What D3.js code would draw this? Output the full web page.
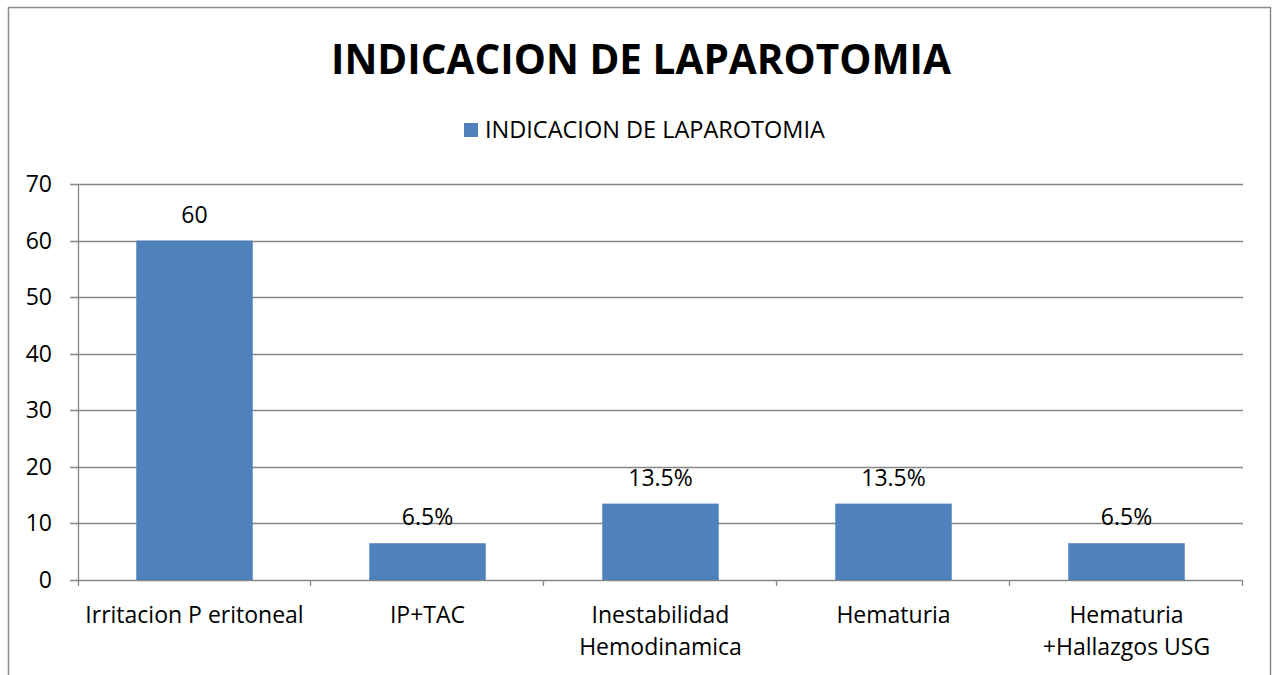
<!DOCTYPE html>
<meta charset="utf-8">
<style>
body { margin: 0; background: #fff; }
text { font-family: "Open Sans", "Noto Sans", sans-serif; fill: #000; }
.title { font-weight: bold; font-size: 40.5px; }
.axis text { font-size: 23px; }
.grid line { stroke: #868686; stroke-width: 1.3; }
.bar { fill: #4f81bd; }
.label { font-size: 23px; }
</style>
<svg width="1272" height="675"></svg>
<script src="https://d3js.org/d3.v7.min.js"></script>
<script>

var categories = [["Irritacion P eritoneal"], ["IP+TAC"], ["Inestabilidad", "Hemodinamica"], ["Hematuria"], ["Hematuria", "+Hallazgos USG"]],
    values = [60, 6.5, 13.5, 13.5, 6.5],
    valueLabels = ["60", "6.5%", "13.5%", "13.5%", "6.5%"],
    yTicks = [0, 10, 20, 30, 40, 50, 60, 70],
    seriesName = "INDICACION DE LAPAROTOMIA",
    title = "INDICACION DE LAPAROTOMIA";

var svg = d3.select("svg"),
    margin = {top: 184, right: 29, bottom: 95, left: 78},
    width = +svg.attr("width") - margin.left - margin.right,
    height = +svg.attr("height") - margin.top - margin.bottom;

// outer frame
svg.append("rect")
    .attr("x", 8.5).attr("y", 7.5)
    .attr("width", 1262).attr("height", 700)
    .attr("fill", "none")
    .attr("stroke", "#8c8c8c")
    .attr("stroke-width", 1.5);

svg.append("text")
    .attr("class", "title")
    .attr("x", 641).attr("y", 74)
    .attr("text-anchor", "middle")
    .text(title);

// legend
var legend = svg.append("g").attr("transform", "translate(464,123)");
legend.append("rect").attr("class", "bar").attr("width", 14).attr("height", 14);
legend.append("text").attr("x", 21).attr("y", 15).attr("font-size", 23.5).text(seriesName);

var x = d3.scaleBand().domain(d3.range(categories.length)).range([0, width]).paddingInner(0).paddingOuter(0),
    y = d3.scaleLinear().domain([0, 70]).range([height, 0]);

var g = svg.append("g")
    .attr("transform", "translate(" + margin.left + "," + margin.top + ")");

// gridlines
g.append("g")
    .attr("class", "grid")
    .selectAll("line")
    .data(yTicks)
    .enter().append("line")
      .attr("x1", -8)
      .attr("x2", width)
      .attr("y1", function(d) { return Math.round(y(d)) + 0.5; })
      .attr("y2", function(d) { return Math.round(y(d)) + 0.5; });

// y axis line
g.append("g").attr("class", "grid")
  .append("line")
    .attr("x1", 0.5).attr("x2", 0.5)
    .attr("y1", 0).attr("y2", height + 6);

// category tick marks
g.append("g").attr("class", "grid")
    .selectAll("line")
    .data(d3.range(1, categories.length + 1))
    .enter().append("line")
      .attr("x1", function(d) { return Math.round(d * x.step()) - 0.5; })
      .attr("x2", function(d) { return Math.round(d * x.step()) - 0.5; })
      .attr("y1", height)
      .attr("y2", height + 6);

// y labels
g.append("g").attr("class", "axis")
    .selectAll("text")
    .data(yTicks)
    .enter().append("text")
      .attr("x", -26)
      .attr("y", function(d) { return y(d) + 8; })
      .attr("text-anchor", "end")
      .text(function(d) { return d; });

// bars
var bw = x.bandwidth() * 0.5;
g.selectAll(".bar")
    .data(values)
    .enter().append("rect")
      .attr("class", "bar")
      .attr("x", function(d, i) { return x(i) + (x.bandwidth() - bw) / 2; })
      .attr("y", function(d) { return y(d); })
      .attr("width", bw)
      .attr("height", function(d) { return height - y(d); });

// value labels
g.selectAll(".label")
    .data(values)
    .enter().append("text")
      .attr("class", "label")
      .attr("text-anchor", "middle")
      .attr("x", function(d, i) { return x(i) + x.bandwidth() / 2; })
      .attr("y", function(d) { return y(d) - 18; })
      .text(function(d, i) { return valueLabels[i]; });

// category labels
var cat = g.append("g").attr("class", "axis")
    .selectAll("text")
    .data(categories)
    .enter().append("text")
      .attr("text-anchor", "middle")
      .attr("x", function(d, i) { return x(i) + x.bandwidth() / 2; })
      .attr("y", height + 43);

cat.selectAll("tspan")
    .data(function(d) { return d; })
    .enter().append("tspan")
      .attr("x", function() { return d3.select(this.parentNode).attr("x"); })
      .attr("dy", function(d, i) { return i === 0 ? 0 : 32; })
      .text(function(d) { return d; });

</script>
